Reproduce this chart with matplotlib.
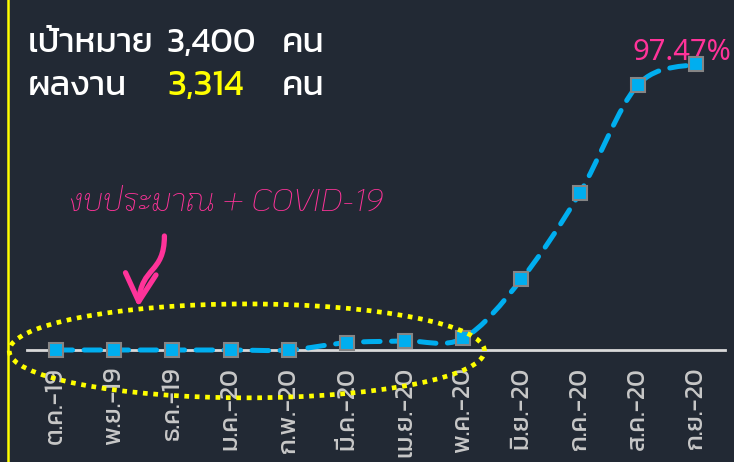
import matplotlib
matplotlib.use("Agg")
import matplotlib.pyplot as plt
import numpy as np
from matplotlib.path import Path
from matplotlib.patches import PathPatch, Ellipse, FancyArrowPatch
from matplotlib.lines import Line2D

# ---- data ----
months = ["ต.ค.-19", "พ.ย.-19", "ธ.ค.-19", "ม.ค.-20", "ก.พ.-20", "มี.ค.-20",
          "เม.ย.-20", "พ.ค.-20", "มิ.ย.-20", "ก.ค.-20", "ส.ค.-20", "ก.ย.-20"]
percent = [0.0, 0.0, 0.0, 0.0, 0.0, 2.5, 3.1, 4.0, 24.1, 53.4, 90.3, 97.47]
target_label = "เป้าหมาย"
target_value = "3,400"
result_label = "ผลงาน"
result_value = "3,314"
unit = "คน"
note = "งบประมาณ + COVID-19"
last_label = "97.47%"

BG = "#222934"
CYAN = "#00AEEF"
PINK = "#FF3399"
YELLOW = "#FFFF00"
THAI = ["Kanit", "DejaVu Sans"]
HAND = ["KoHo", "DejaVu Sans"]

W, H = 734, 462
fig = plt.figure(figsize=(W / 100, H / 100), dpi=100, facecolor=BG)
ax = fig.add_axes([27 / W, 1 - 350 / H, (725 - 27) / W, 293.4 / H])
ax.set_facecolor(BG)
ax.patch.set_alpha(0)

x = np.arange(len(months))
y = np.array(percent)

# smooth (Catmull-Rom -> cubic Bezier) line through the data points
verts = [(x[0], y[0])]
codes = [Path.MOVETO]
n = len(x)
for i in range(n - 1):
    p0 = np.array([x[max(i - 1, 0)], y[max(i - 1, 0)]])
    p1 = np.array([x[i], y[i]])
    p2 = np.array([x[i + 1], y[i + 1]])
    p3 = np.array([x[min(i + 2, n - 1)], y[min(i + 2, n - 1)]])
    c1 = p1 + (p2 - p0) / 6.0
    c2 = p2 - (p3 - p1) / 6.0
    verts += [tuple(c1), tuple(c2), tuple(p2)]
    codes += [Path.CURVE4] * 3
curve = PathPatch(Path(verts, codes), fill=False, edgecolor=CYAN, lw=3.6,
                  linestyle=(0, (3.3, 2.3)), capstyle="round", zorder=3,
                  clip_on=False)
ax.add_patch(curve)

ax.plot(x, y, linestyle="none", marker="s", markersize=10,
        markerfacecolor=CYAN, markeredgecolor="#858585", markeredgewidth=1.5,
        zorder=4, clip_on=False)

ax.set_xlim(-0.5, len(months) - 0.5)
ax.set_ylim(0, 100)
for s in ["top", "right", "left"]:
    ax.spines[s].set_visible(False)
ax.spines["bottom"].set_color("#d9d9d9")
ax.spines["bottom"].set_linewidth(2)
ax.spines["bottom"].set_zorder(2)
ax.set_yticks([])
ax.set_xticks(x)
ax.set_xticklabels(months, rotation=90, color="#c8c8c8", fontsize=18.5,
                   family=THAI, fontweight="normal")
ax.tick_params(axis="x", length=0, pad=12)

# dotted ellipse
ell = Ellipse((3.28, -0.3), 8.17, 32.0, fill=False, edgecolor=YELLOW, lw=3.4,
              linestyle=(0, (1.0, 1.2)), capstyle="butt", zorder=5, clip_on=False)
ax.add_patch(ell)

# curved arrow
def d(px, py):
    return ((px - 55) / 58.0, (350 - py) / 2.934)
apath = Path([d(163, 236), d(163, 274), d(140, 266), d(137, 307)],
             [Path.MOVETO, Path.CURVE4, Path.CURVE4, Path.CURVE4])
arr = FancyArrowPatch(path=apath, arrowstyle="->,head_length=1.0,head_width=0.55",
                      mutation_scale=20, color=PINK, lw=3.8, zorder=6,
                      clip_on=False, capstyle="round", joinstyle="round")
ax.add_patch(arr)

# handwritten note
ax.text(*d(68, 211), note, color=PINK, fontsize=23, family=HAND,
        style="italic", fontweight="light", ha="left", va="baseline",
        clip_on=False)

# last value label
ax.annotate(last_label, xy=(x[-1], y[-1]), xytext=(-63, 4),
            textcoords="offset pixels", color=PINK, fontsize=21,
            family=["Noto Sans", "DejaVu Sans"], ha="left", va="baseline",
            annotation_clip=False)

# header texts
FS = 25
fig.text(28 / W, 1 - 52 / H, target_label, color="white", fontsize=FS,
         family=THAI, va="baseline", ha="left")
fig.text(167 / W, 1 - 52 / H, target_value, color="white", fontsize=FS,
         family=THAI, va="baseline", ha="left")
fig.text(282 / W, 1 - 52 / H, unit, color="white", fontsize=FS,
         family=THAI, va="baseline", ha="left")
fig.text(28 / W, 1 - 95 / H, result_label, color="white", fontsize=FS,
         family=THAI, va="baseline", ha="left")
fig.text(167 / W, 1 - 95 / H, result_value, color=YELLOW, fontsize=FS + 1,
         family=THAI, va="baseline", ha="left")
fig.text(282 / W, 1 - 95 / H, unit, color="white", fontsize=FS,
         family=THAI, va="baseline", ha="left")

# yellow frame line on the left
fig.add_artist(Line2D([7.5 / W, 7.5 / W], [0, 1], transform=fig.transFigure,
                      color=YELLOW, lw=1.8))

fig.savefig("out.png", facecolor=BG)
